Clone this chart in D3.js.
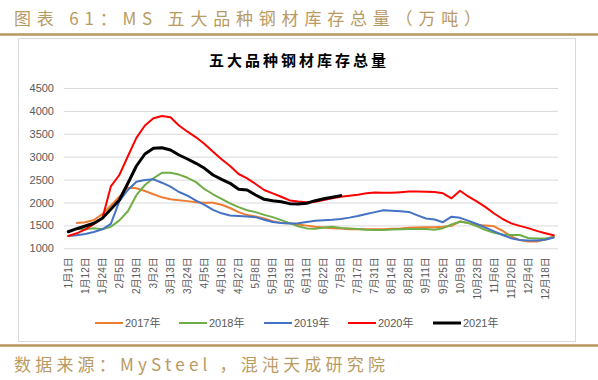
<!DOCTYPE html>
<html><head><meta charset="utf-8">
<script src="https://cdn.jsdelivr.net/npm/d3@7"></script>
<style>body{margin:0;background:#fff;} svg{display:block;}</style>
</head><body><svg id="c" width="598" height="380"></svg>
<script>
const categories = ["1月1日","1月6日","1月12日","1月18日","1月24日","1月30日","2月5日","2月12日","2月19日","2月26日",
"3月2日","3月6日","3月13日","3月19日","3月24日","3月30日","4月5日","4月10日","4月16日","4月21日",
"4月27日","5月3日","5月8日","5月14日","5月19日","5月26日","5月31日","6月5日","6月11日","6月17日",
"6月22日","6月28日","7月3日","7月10日","7月17日","7月24日","7月31日","8月7日","8月14日","8月21日",
"8月28日","9月4日","9月11日","9月18日","9月25日","10月2日","10月9日","10月16日","10月23日","10月30日",
"11月6日","11月13日","11月20日","11月27日","12月4日","12月11日","12月18日","12月25日"];
const tickLabels = categories.filter((d,i)=>i%2===0);
const yTicks = [1000,1500,2000,2500,3000,3500,4000,4500];
const seriesNames = ["2017年","2018年","2019年","2020年","2021年"];
const seriesColors = ["#ED7D31","#70AD47","#4472C4","#FF0000","#000000"];

const v2017 = [null,1552,1567,1618,1745,1935,2126,2323,2310,2251,2179,2113,2070,2048,2030,2005,1995,1995,1950,1880,
1790,1725,1695,1650,1590,1555,1545,1520,1495,1470,1455,1440,1430,1415,1415,1418,1418,1415,1425,1435,
1450,1455,1458,1460,1470,1490,1590,1550,1510,1500,1480,1380,1260,1180,1150,1150,1190,1265];
const v2018 = [null,1420,1415,1437,1415,1472,1610,1810,2160,2382,2528,2650,2650,2610,2540,2445,2290,2180,2080,1980,
1900,1830,1790,1730,1680,1615,1550,1480,1435,1425,1455,1470,1445,1435,1420,1405,1400,1400,1410,1415,
1420,1420,1420,1405,1440,1520,1580,1550,1480,1400,1340,1300,1290,1290,1225,1215,1215,1240];
const v2019 = [1268,1284,1312,1356,1415,1535,2030,2273,2454,2491,2506,2432,2345,2229,2150,2040,1950,1840,1764,1715,
1705,1695,1680,1625,1575,1555,1540,1545,1575,1600,1615,1625,1640,1670,1705,1750,1790,1830,1820,1810,
1795,1720,1650,1630,1570,1690,1665,1600,1530,1450,1370,1290,1220,1180,1170,1170,1185,1235];
const v2020 = [1268,1327,1415,1530,1650,2350,2600,3010,3410,3680,3840,3890,3860,3680,3546,3423,3277,3109,2943,2797,
2622,2528,2404,2273,2200,2126,2045,2020,2004,2017,2054,2091,2126,2148,2170,2200,2220,2214,2214,2225,
2240,2240,2236,2229,2200,2092,2257,2126,2017,1900,1760,1640,1545,1490,1440,1380,1330,1284];
const v2021 = [1362,1428,1487,1546,1655,1851,2054,2420,2797,3059,3183,3196,3146,3037,2950,2856,2746,2600,2506,2419,
2288,2273,2164,2070,2039,2017,1975,1967,1985,2040,2080,2115,2150];

const seriesValues = [v2017, v2018, v2019, v2020, v2021];

const svg = d3.select("#c");
const gold = "#B8965C";
const cjk = "'Noto Sans CJK SC','Noto Sans',sans-serif";
const lab = "'Liberation Sans','Noto Sans CJK SC',sans-serif";

// header
svg.append("text").attr("x",14).attr("y",25).attr("fill","#B99A63")
  .attr("font-family",cjk).attr("font-size",17).attr("letter-spacing",5.8)
  .text("图表 61：MS 五大品种钢材库存总量（万吨）");
svg.append("line").attr("x1",0).attr("x2",598).attr("y1",34.5).attr("y2",34.5)
  .attr("stroke",gold).attr("stroke-width",2.5);
// chart frame
svg.append("rect").attr("x",18.5).attr("y",38.5).attr("width",557).attr("height",303)
  .attr("fill","#fff").attr("stroke","#D9D9D9").attr("stroke-width",1);
// footer
svg.append("line").attr("x1",0).attr("x2",598).attr("y1",345.5).attr("y2",345.5)
  .attr("stroke",gold).attr("stroke-width",2.5);
svg.append("text").attr("x",14).attr("y",371).attr("fill","#B99A63")
  .attr("font-family",cjk).attr("font-size",17).attr("letter-spacing",4.2)
  .text("数据来源：MySteel ，混沌天成研究院");

// chart title
svg.append("text").attr("x",299).attr("y",66).attr("text-anchor","middle")
  .attr("font-family",cjk).attr("font-weight","bold").attr("font-size",15)
  .attr("letter-spacing",3).attr("fill","#000").text("五大品种钢材库存总量");

const x = d3.scaleBand().domain(categories).range([64,558]).padding(0);
const xp = d => x(d) + x.bandwidth()/2;
const y = d3.scaleLinear().domain([1000,4500]).range([248.3,88]);

// grid
const grid = svg.append("g").attr("transform","translate(64,0)")
  .call(d3.axisLeft(y).tickValues(yTicks).tickSize(-(558-64)).tickFormat(""));
grid.select(".domain").remove();
grid.selectAll("line").attr("stroke","#D9D9D9");

// y axis labels
const ya = svg.append("g").attr("transform","translate(64,0)")
  .call(d3.axisLeft(y).tickValues(yTicks).tickSize(0).tickPadding(10).tickFormat(d3.format("d")));
ya.select(".domain").remove();
ya.selectAll("text").attr("font-family",lab).attr("font-size",11).attr("fill","#595959");

// x axis labels
const xa = svg.append("g").attr("transform","translate(0,248.3)")
  .call(d3.axisBottom(x).tickValues(tickLabels).tickSize(0));
xa.select(".domain").remove();
xa.selectAll("text").attr("font-family",lab).attr("font-size",10).attr("fill","#595959")
  .attr("transform","rotate(-90)").attr("text-anchor","end")
  .attr("x",-9).attr("y",0).attr("dy","0.35em");

// lines
const line = d3.line().defined(d => d.v != null).x(d => xp(d.c)).y(d => y(d.v));
seriesValues.forEach((vals,k) => {
  const data = vals.map((v,i) => ({c: categories[i], v: v}));
  svg.append("path").datum(data).attr("d",line).attr("fill","none")
    .attr("stroke",seriesColors[k]).attr("stroke-width",k===4?3:2)
    .attr("stroke-linejoin","round").attr("stroke-linecap","round");
});

// legend
const legX = [95,179,264,348,433];
const lg = svg.append("g");
seriesNames.forEach((n,k) => {
  lg.append("line").attr("x1",legX[k]).attr("x2",legX[k]+28).attr("y1",323).attr("y2",323)
    .attr("stroke",seriesColors[k]).attr("stroke-width",k===4?3:2);
  lg.append("text").attr("x",legX[k]+30).attr("y",323).attr("dy","0.35em")
    .attr("font-family",lab).attr("font-size",11).attr("fill","#595959").text(n);
});
</script></body></html>
